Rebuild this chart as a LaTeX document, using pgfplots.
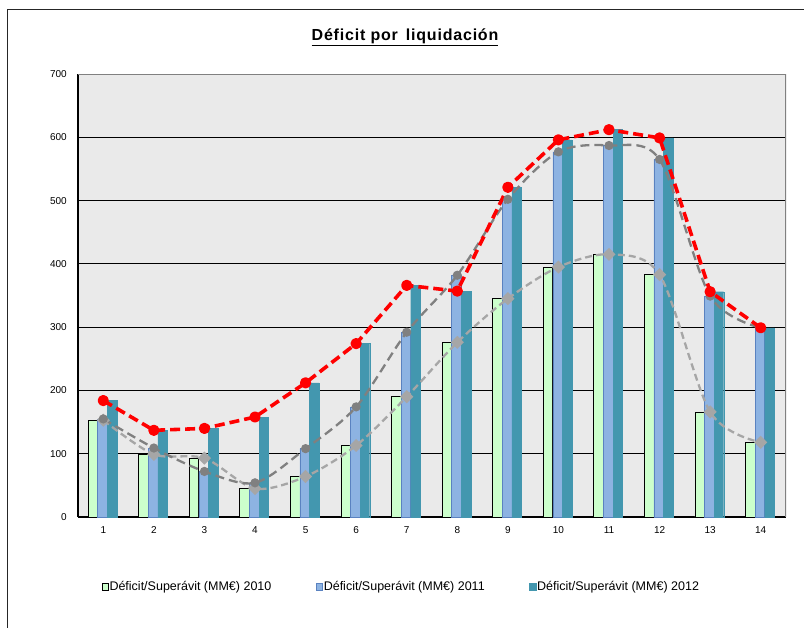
\documentclass[border=0pt]{standalone}
\usepackage{fontspec}
\setmainfont{Liberation Sans}
\usepackage{pgfplots}
\pgfplotsset{compat=1.18}
\definecolor{cgreen}{HTML}{CCFFCC}
\definecolor{cblue}{HTML}{8DB3E2}
\definecolor{cblueedge}{HTML}{5A82C0}
\definecolor{cteal}{HTML}{4397AF}
\definecolor{plotbg}{HTML}{EAEAEA}
\definecolor{dgray}{HTML}{808080}
\definecolor{lgray}{HTML}{A6A6A6}
\begin{document}
\begin{tikzpicture}
\useasboundingbox (0pt,0pt) rectangle (804pt,-628pt);
\fill[white] (0pt,0pt) rectangle (804pt,-628pt);
\draw[line width=1pt, black!85] (7pt,-630pt) -- (7pt,-10pt) -- (806pt,-10pt);
\node[font=\bfseries\fontsize{16}{18}\selectfont\addfontfeature{LetterSpace=5}] at (405pt,-37pt) {\underline{Déficit por\, liquidación}};
\begin{axis}[
  at={(78pt,-517pt)}, anchor=south west,
  width=708pt, height=443pt, scale only axis,
  xmin=0.5, xmax=14.5, ymin=0, ymax=700,
  axis background/.style={fill=plotbg},
  axis x line*=bottom, axis y line*=left,
  axis line style={line width=1.6pt, black},
  xtick={1,...,14}, ytick={0,100,...,700},
  major tick length=0pt,
  ymajorgrids, grid style={black, line width=0.9pt},
  tick label style={font=\fontsize{10}{12}\selectfont},
  /pgf/number format/assume math mode=true,
  yticklabel style={anchor=east, inner sep=0pt, xshift=-11pt},
  xticklabel style={anchor=north, inner sep=0pt, yshift=-9pt},
  legend columns=3,
  legend cell align=left,
  legend style={at={(0.0335,-0.158)}, anchor=west, draw=none, fill=none,
    inner sep=0pt, outer sep=0pt, font=\fontsize{12.5}{14}\selectfont,
    nodes={inner sep=0.6pt},
    /tikz/every even column/.append style={column sep=44pt}},
]
\addplot[ybar, bar width=9.6pt, bar shift=-10.4pt, fill=cgreen, draw=black, line width=0.8pt,
  legend image code/.code={\draw[fill=cgreen,draw=black,line width=0.8pt] (0pt,-3.2pt) rectangle (6.4pt,3.2pt);}]
  coordinates {(1,153) (2,99) (3,93) (4,45) (5,64) (6,113) (7,190) (8,276) (9,345) (10,395) (11,415) (12,383) (13,166) (14,118)};
\addlegendentry{Déficit/Superávit (MM€) 2010}
\addplot[ybar, bar width=9.6pt, bar shift=-0.8pt, fill=cblue, draw=cblueedge, line width=0.6pt,
  legend image code/.code={\draw[fill=cblue,draw=cblueedge,line width=0.8pt] (0pt,-3.2pt) rectangle (6.4pt,3.2pt);}]
  coordinates {(1,155) (2,109) (3,72) (4,54) (5,108) (6,174) (7,292) (8,382) (9,502) (10,577) (11,587) (12,565) (13,349) (14,299)};
\addlegendentry{Déficit/Superávit (MM€) 2011}
\addplot[ybar, bar width=9.6pt, bar shift=8.8pt, fill=cteal, draw=cteal, line width=0.4pt,
  legend image code/.code={\draw[fill=cteal,draw=cteal,line width=0.8pt] (0pt,-3.2pt) rectangle (6.4pt,3.2pt);}]
  coordinates {(1,184) (2,137) (3,140) (4,158) (5,212) (6,274) (7,366) (8,357) (9,521) (10,596) (11,612) (12,599) (13,356) (14,299)};
\addlegendentry{Déficit/Superávit (MM€) 2012}
% trend lines
\addplot[forget plot, smooth, lgray, line width=2.3pt, dash pattern=on 7pt off 4pt,
  mark=square*, mark size=3.5pt, mark options={solid, rotate=45, fill=lgray, draw=lgray}]
  coordinates {(1,153) (2,99) (3,93) (4,45) (5,64) (6,113) (7,190) (8,276) (9,345) (10,395) (11,415) (12,383) (13,166) (14,118)};
\addplot[forget plot, smooth, dgray, line width=2.3pt, dash pattern=on 9pt off 5pt,
  mark=*, mark size=3.4pt, mark options={solid, fill=dgray, draw=dgray}]
  coordinates {(1,155) (2,109) (3,72) (4,54) (5,108) (6,174) (7,292) (8,382) (9,502) (10,577) (11,587) (12,565) (13,349) (14,299)};
\addplot[forget plot, sharp plot, red, line width=3.6pt, dash pattern=on 10pt off 5pt, line join=round,
  mark=*, mark size=3.8pt, mark options={solid, fill=red, draw=red}]
  coordinates {(1,184) (2,137) (3,140) (4,158) (5,212) (6,274) (7,366) (8,357) (9,521) (10,596) (11,612) (12,599) (13,356) (14,299)};
\draw[dgray, line width=1.4pt] (rel axis cs:0,1) -- (rel axis cs:1,1) -- (rel axis cs:1,0);
\end{axis}
\end{tikzpicture}
\end{document}
